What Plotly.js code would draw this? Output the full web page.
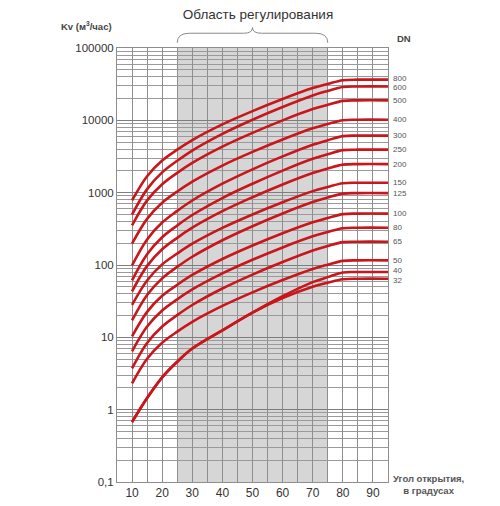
<!DOCTYPE html>
<html>
<head>
<meta charset="utf-8">
<script src="https://cdn.plot.ly/plotly-3.0.1.min.js"></script>
<style>html,body{margin:0;padding:0;background:#fff}#chart{width:500px;height:506px}</style>
</head>
<body>
<div id="chart"></div>
<script>
// Opening angle, degrees
const angles = [10, 15, 20, 25, 30, 40, 50, 60, 70, 75, 80, 85, 95];
// Kv (m3/h) for each DN
const dn800 = [782, 1690, 2780, 3930, 5340, 8800, 13400, 19700, 27900, 31900, 35900, 36500, 36500];
const dn600 = [497, 1120, 1910, 2760, 3820, 6500, 10200, 15300, 22100, 25500, 28900, 29400, 29400];
const dn500 = [353, 783, 1310, 1880, 2580, 4330, 6710, 9990, 14300, 16400, 18600, 18900, 18900];
const dn400 = [197, 434, 726, 1035, 1420, 2370, 3660, 5430, 7750, 8890, 10050, 10200, 10200];
const dn300 = [98.9, 226, 386, 560, 779, 1330, 2100, 3170, 4600, 5310, 6050, 6140, 6140];
const dn250 = [61.4, 141, 242, 352, 491, 843, 1330, 2020, 2940, 3400, 3870, 3930, 3930];
const dn200 = [43.2, 97.2, 165, 237, 328, 555, 866, 1300, 1870, 2160, 2440, 2480, 2480];
const dn150 = [28.1, 61.2, 102, 144, 197, 326, 500, 738, 1050, 1200, 1350, 1370, 1370];
const dn125 = [17.2, 38.6, 65.4, 94.2, 130, 220, 344, 516, 743, 856, 971, 986, 986];
const dn100 = [10.3, 22.5, 37.5, 53.2, 72.8, 121, 186, 275, 390, 447, 505, 513, 513];
const dn80  = [6.41, 14.1, 23.5, 33.5, 45.9, 76.5, 118, 175, 249, 286, 323, 328, 328];
const dn65  = [3.73, 8.35, 14.1, 20.3, 28.0, 47.3, 73.7, 110, 159, 183, 207, 210, 210];
const dn50  = [2.31, 5.06, 8.42, 12.0, 16.4, 27.2, 41.9, 61.9, 88.1, 101, 114, 116, 116];
const dn40  = [0.675, 1.45, 2.8, 4.6, 7.0, 12.5, 22, 37, 58, 68, 78.8, 80, 80];
const dn32  = [0.675, 1.45, 2.8, 4.6, 7.0, 12.5, 22, 35, 50, 57, 63.7, 64.7, 64.7];

const dnLabels = ['800', '600', '500', '400', '300', '250', '200', '150', '125', '100', '80', '65', '50', '40', '32'];
const series = [dn800, dn600, dn500, dn400, dn300, dn250, dn200, dn150, dn125, dn100, dn80, dn65, dn50, dn40, dn32];

const xTickVals = [10, 20, 30, 40, 50, 60, 70, 80, 90];
const xMinorVals = [15, 25, 35, 45, 55, 65, 75, 85];
const yTickVals = [0.1, 1, 10, 100, 1000, 10000, 100000];
const yTickText = ['0,1', '1', '10', '100', '1000', '10000', '100000'];
const regionStart = 25, regionEnd = 75;

const yMinorVals = [];
[0.1, 1, 10, 100, 1000, 10000].forEach(d => { for (let k = 2; k <= 9; k++) yMinorVals.push(d * k); });

const FONT = 'Arial, "Liberation Sans", sans-serif';
// small vertical nudges (px) so that tightly stacked labels do not collide
const labelNudge = {'800': 1.5, '600': -1.5, '40': 1.5, '32': -1.5};

const traces = series.map((v, i) => ({
  x: angles, y: v, type: 'scatter', mode: 'lines', name: 'DN ' + dnLabels[i],
  line: {color: '#c9151b', width: 2.6, shape: 'spline', smoothing: 1},
  hoverinfo: 'skip', showlegend: false
}));

const annotations = series.map((v, i) => ({
  x: angles[angles.length - 1], y: Math.log10(v[v.length - 1]), xref: 'x', yref: 'y',
  text: dnLabels[i], showarrow: false, xanchor: 'left', yanchor: 'middle', xshift: 3,
  yshift: labelNudge[dnLabels[i]] || 0,
  font: {family: FONT, size: 8, color: '#555'}
}));
annotations.push({
  xref: 'paper', yref: 'paper', x: -0.01, y: 1.05, xanchor: 'right', yanchor: 'middle',
  text: '<b>Kv (м<sup>3</sup>/час)</b>', showarrow: false, font: {family: FONT, size: 9.5, color: '#444'}
});
annotations.push({
  xref: 'paper', yref: 'paper', x: 1.025, y: 1.022, xanchor: 'left', yanchor: 'middle',
  text: '<b>DN</b>', showarrow: false, font: {family: FONT, size: 9.5, color: '#444'}
});
annotations.push({
  xref: 'paper', yref: 'paper', x: 1.15, y: -0.006, xanchor: 'center', yanchor: 'middle',
  text: '<b>Угол открытия,<br>в градусах</b>', showarrow: false, align: 'center',
  font: {family: FONT, size: 9.5, color: '#555'}
});

const layout = {
  width: 500, height: 506,
  margin: {l: 117, r: 112, t: 48, b: 24},
  paper_bgcolor: '#fff', plot_bgcolor: '#fff',
  font: {family: FONT, color: '#333'},
  title: {text: 'Область регулирования', x: 0.516, xref: 'container', xanchor: 'center',
          y: 0.972, yref: 'container', yanchor: 'middle', font: {family: FONT, size: 13.5, color: '#333'}},
  xaxis: {
    range: [5, 95], tickvals: xTickVals, ticks: '', showgrid: true, gridcolor: '#8e8e8e', gridwidth: 1,
    minor: {tickvals: xMinorVals, showgrid: true, gridcolor: '#8e8e8e', gridwidth: 1, ticks: ''},
    showline: true, mirror: true, linecolor: '#8e8e8e', linewidth: 1, zeroline: false,
    tickfont: {family: FONT, size: 12, color: '#333'}, fixedrange: true
  },
  yaxis: {
    type: 'log', range: [-1, 5], tickvals: yTickVals, ticktext: yTickText, ticks: '',
    showgrid: true, gridcolor: '#7e7e7e', gridwidth: 1,
    minor: {tickvals: yMinorVals, showgrid: true, gridcolor: '#9a9a9a', gridwidth: 1, ticks: ''},
    showline: true, mirror: true, linecolor: '#8e8e8e', linewidth: 1, zeroline: false,
    tickfont: {family: FONT, size: 11.5, color: '#333'}, fixedrange: true
  },
  shapes: [
    {type: 'rect', xref: 'x', yref: 'paper', x0: regionStart, x1: regionEnd, y0: 0, y1: 1,
     fillcolor: '#d6d6d6', line: {width: 0}, layer: 'below'},
    {type: 'path', xref: 'x', yref: 'paper', layer: 'above',
     path: 'M 25,1.012 Q 25,1.034 29,1.034 L 47,1.034 Q 50,1.034 50,1.047 Q 50,1.034 53,1.034 L 71,1.034 Q 75,1.034 75,1.012',
     line: {color: '#8a8a8a', width: 1}}
  ],
  annotations: annotations,
  showlegend: false
};

Plotly.newPlot('chart', traces, layout, {displayModeBar: false, staticPlot: true});
</script>
</body>
</html>
